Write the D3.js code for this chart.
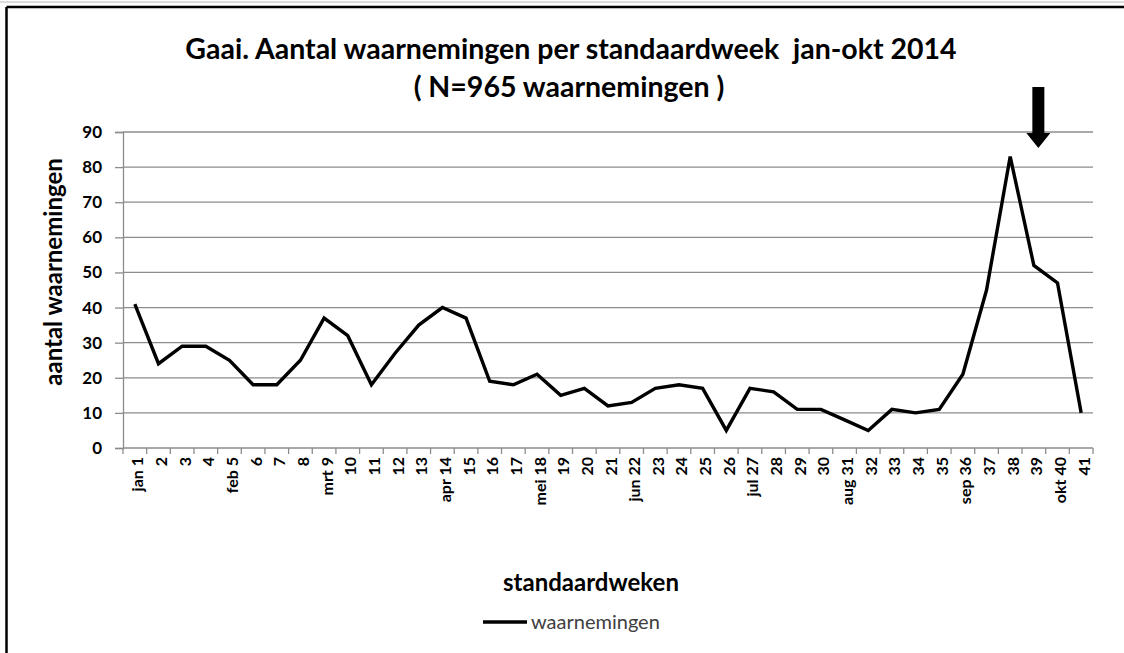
<!DOCTYPE html>
<meta charset="utf-8">
<script src="https://d3js.org/d3.v7.min.js"></script>
<html>
<head>
  <title>Gaai</title>
  <style>
    body { margin: 0; background: #fff; }
    text { font-family: Lato, "Open Sans", sans-serif; }
  </style>
</head>
<body>
  <div id="my_dataviz"></div>
</body>
</html>

<script>
  // week labels on the x axis
  var weekLabels = ["jan 1","2","3","4","feb 5","6","7","8","mrt 9","10","11","12","13","apr 14","15","16","17","mei 18","19","20","21","jun 22","23","24","25","26","jul 27","28","29","30","aug 31","32","33","34","35","sep 36","37","38","39","okt 40","41"];
  // number of observations per week
  var counts = [41,24,29,29,25,18,18,25,37,32,18,27,35,40,37,19,18,21,15,17,12,13,17,18,17,5,17,16,11,11,8,5,11,10,11,21,45,83,52,47,10];
  var yTicks = [0,10,20,30,40,50,60,70,80,90];
  var arrowWeek = "39";

  var W = 1124, H = 653;
  var margin = {top: 132, right: 31, bottom: 205, left: 123},
      width = W - margin.left - margin.right,
      height = H - margin.top - margin.bottom;

  var root = d3.select("#my_dataviz")
    .append("svg")
      .attr("width", W)
      .attr("height", H);

  // frame (top + left only)
  root.append("line").attr("x1", 0).attr("x2", W).attr("y1", 2).attr("y2", 2)
    .style("stroke", "#bbb").style("stroke-width", 1);
  root.append("line").attr("x1", 6.5).attr("x2", W).attr("y1", 7).attr("y2", 7)
    .style("stroke", "#000").style("stroke-width", 2.5);
  root.append("line").attr("x1", 6.5).attr("x2", 6.5).attr("y1", 7).attr("y2", H)
    .style("stroke", "#000").style("stroke-width", 2.5);

  var svg = root.append("g")
    .attr("transform", "translate(" + margin.left + "," + margin.top + ")");

  var x = d3.scaleBand()
    .domain(weekLabels)
    .range([0, width]);

  var y = d3.scaleLinear()
    .domain([0, 90])
    .range([height, 0]);

  // gridlines
  svg.append("g")
    .selectAll("line")
    .data(yTicks.slice(1))
    .enter()
    .append("line")
      .attr("x1", 0)
      .attr("x2", width)
      .attr("y1", function(d) { return y(d); })
      .attr("y2", function(d) { return y(d); })
      .style("stroke", "#8c8c8c")
      .style("stroke-width", 1.3);

  // y axis
  var yAxis = svg.append("g")
    .call(d3.axisLeft(y).tickValues(yTicks).tickSize(8).tickPadding(13));
  yAxis.select(".domain").style("stroke", "#8c8c8c").style("stroke-width", 1.3);
  yAxis.selectAll(".tick line").style("stroke", "#8c8c8c").style("stroke-width", 1.3);
  yAxis.selectAll("text")
    .style("font-size", "17px")
    .style("font-weight", "bold")
    .style("fill", "#000")
    .style("font-family", "Lato, sans-serif");

  // x axis with ticks at band boundaries
  var xAxis = svg.append("g")
    .attr("transform", "translate(0," + height + ")");
  xAxis.append("line")
    .attr("x1", 0).attr("x2", width)
    .style("stroke", "#8c8c8c").style("stroke-width", 1.3);
  xAxis.selectAll(".bound")
    .data(weekLabels.concat(["end"]))
    .enter()
    .append("line")
      .attr("class", "bound")
      .attr("x1", function(d, i) { return i < weekLabels.length ? x(d) : width; })
      .attr("x2", function(d, i) { return i < weekLabels.length ? x(d) : width; })
      .attr("y1", 0).attr("y2", 6)
      .style("stroke", "#8c8c8c").style("stroke-width", 1.3);
  xAxis.selectAll(".lbl")
    .data(weekLabels)
    .enter()
    .append("text")
      .attr("class", "lbl")
      .attr("transform", function(d) {
        return "translate(" + (x(d) + x.bandwidth() / 2 + 8.5) + ",9)rotate(-90)";
      })
      .style("text-anchor", "end")
      .style("font-size", "16px")
      .style("font-weight", "bold")
      .text(function(d) { return d; });

  // the line
  var line = d3.line()
    .x(function(d, i) { return x(weekLabels[i]) + x.bandwidth() / 2; })
    .y(function(d) { return y(d); });

  svg.append("path")
    .datum(counts)
    .attr("d", line)
    .style("fill", "none")
    .style("stroke", "#000")
    .style("stroke-width", 3.4)
    .style("stroke-linejoin", "miter");

  // arrow above week 39
  var ax = x(arrowWeek) + x.bandwidth() / 2 + 4.5;
  svg.append("path")
    .attr("d", "M" + (ax - 6) + "," + (87 - margin.top) +
               "H" + (ax + 6) + "V" + (133 - margin.top) +
               "H" + (ax + 12) + "L" + ax + "," + (148 - margin.top) +
               "L" + (ax - 12) + "," + (133 - margin.top) +
               "H" + (ax - 6) + "Z")
    .style("fill", "#000");

  // titles
  root.append("text")
    .attr("x", 571)
    .attr("y", 59)
    .attr("text-anchor", "middle")
    .style("font-size", "28.5px")
    .style("font-weight", "bold")
    .attr("xml:space", "preserve")
    .text("Gaai. Aantal waarnemingen per standaardweek  jan-okt 2014");
  root.append("text")
    .attr("x", 569)
    .attr("y", 97)
    .attr("text-anchor", "middle")
    .style("font-size", "28.5px")
    .style("font-weight", "bold")
    .attr("xml:space", "preserve")
    .text("( N=965 waarnemingen )");

  // y title
  root.append("text")
    .attr("transform", "translate(62,272)rotate(-90)")
    .attr("text-anchor", "middle")
    .style("font-size", "24px")
    .style("font-weight", "bold")
    .text("aantal waarnemingen");

  // x title
  root.append("text")
    .attr("x", 591)
    .attr("y", 591)
    .attr("text-anchor", "middle")
    .style("font-size", "24px")
    .style("font-weight", "bold")
    .text("standaardweken");

  // legend
  root.append("line")
    .attr("x1", 483).attr("x2", 527)
    .attr("y1", 622).attr("y2", 622)
    .style("stroke", "#000").style("stroke-width", 3.5);
  root.append("text")
    .attr("x", 531)
    .attr("y", 629)
    .style("font-size", "20px")
    .style("fill", "#404040")
    .text("waarnemingen");
</script>
